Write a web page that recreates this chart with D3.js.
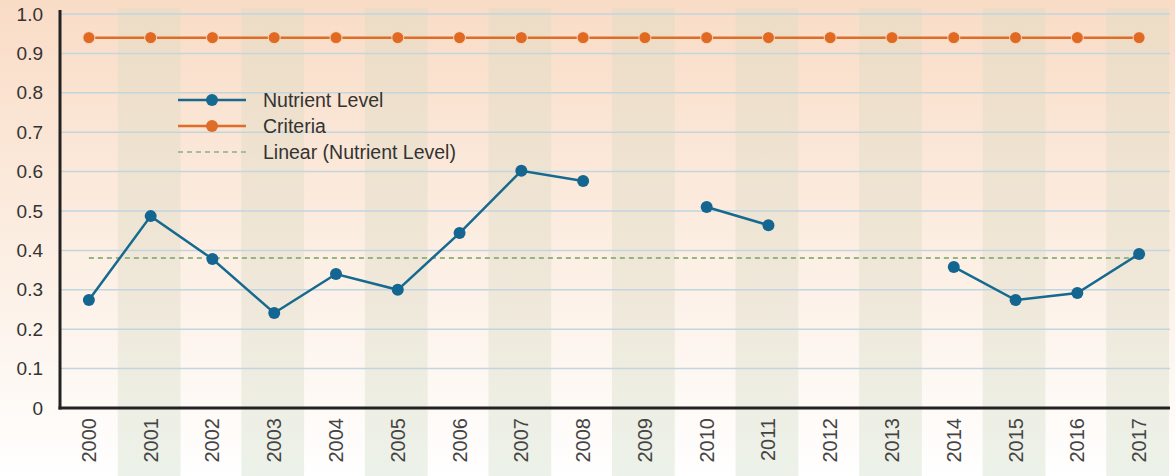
<!DOCTYPE html>
<html>
<head>
<meta charset="utf-8">
<script src="https://cdn.jsdelivr.net/npm/d3@7"></script>
<style>
  body { margin: 0; background: #fff; }
  svg { display: block; font-family: "Liberation Sans", Arial, sans-serif; }
</style>
</head>
<body>
<div id="holder"></div>
<script>
// chart data
var years = ['2000','2001','2002','2003','2004','2005','2006','2007','2008','2009','2010','2011','2012','2013','2014','2015','2016','2017'];
var nutrient = [0.274, 0.487, 0.378, 0.241, 0.340, 0.300, 0.444, 0.602, 0.576, null, 0.510, 0.464, null, null, 0.358, 0.274, 0.292, 0.391];
var criteria = [0.94, 0.94, 0.94, 0.94, 0.94, 0.94, 0.94, 0.94, 0.94, 0.94, 0.94, 0.94, 0.94, 0.94, 0.94, 0.94, 0.94, 0.94];
var trendEnds = [0.381, 0.381];
var yTicks = [0, 0.1, 0.2, 0.3, 0.4, 0.5, 0.6, 0.7, 0.8, 0.9, 1.0];
var legendItems = ['Nutrient Level', 'Criteria', 'Linear (Nutrient Level)'];

var W = 1175, H = 476;
var font = '"Liberation Sans", Arial, sans-serif';

var svg = d3.select('#holder').append('svg').attr('width', W).attr('height', H);
var defs = svg.append('defs');

var bg = defs.append('linearGradient').attr('id', 'bg').attr('x1', 0).attr('y1', 0).attr('x2', 0).attr('y2', 1);
bg.append('stop').attr('offset', '0%').attr('stop-color', '#f9dcc6');
bg.append('stop').attr('offset', '55%').attr('stop-color', '#fcefe4');
bg.append('stop').attr('offset', '100%').attr('stop-color', '#ffffff');

var stripe = defs.append('linearGradient').attr('id', 'stripe').attr('x1', 0).attr('y1', 0).attr('x2', 0).attr('y2', 1);
stripe.append('stop').attr('offset', '0%').attr('stop-color', '#ebdcc5');
stripe.append('stop').attr('offset', '60%').attr('stop-color', '#ede6d7');
stripe.append('stop').attr('offset', '100%').attr('stop-color', '#e9f0e6');

svg.append('rect').attr('width', W).attr('height', H).attr('fill', 'url(#bg)');

var x = d3.scaleBand().domain(years).range([58, 1170]);
var y = d3.scaleLinear().domain([0, 1]).range([408, 14]);

// alternating column stripes
svg.append('g').selectAll('rect')
  .data(years.filter(function(d, i) { return i % 2 === 1; }))
  .enter().append('rect')
  .attr('x', function(d) { return x(d) - 2; })
  .attr('y', 8)
  .attr('width', x.bandwidth() + 1)
  .attr('height', H - 8)
  .attr('fill', 'url(#stripe)')
  .attr('opacity', 0.85);

// gridlines
svg.append('g').selectAll('line')
  .data(yTicks.filter(function(d) { return d > 0; }))
  .enter().append('line')
  .attr('x1', 60).attr('x2', 1170)
  .attr('y1', function(d) { return y(d); })
  .attr('y2', function(d) { return y(d); })
  .attr('stroke', '#c3d5df').attr('stroke-width', 1.5);

// y axis
var yAxis = svg.append('g').attr('transform', 'translate(60,0)')
  .call(d3.axisLeft(y).tickValues(yTicks).tickSize(0).tickPadding(17)
    .tickFormat(function(d) { return d === 0 ? '0' : d3.format('.1f')(d); }));
yAxis.select('.domain').attr('stroke', '#222').attr('stroke-width', 3).attr('d', 'M0,10V409.5');
yAxis.selectAll('text').attr('font-size', 19).attr('fill', '#333').attr('font-family', font);

// x axis
var xAxis = svg.append('g').attr('transform', 'translate(0,408)')
  .call(d3.axisBottom(x).tickSize(0));
xAxis.select('.domain').attr('stroke', '#222').attr('stroke-width', 3).attr('d', 'M58.5,0H1170');
xAxis.selectAll('text')
  .attr('font-size', 20).attr('fill', '#444')
  .attr('font-family', font)
  .attr('transform', 'rotate(-90)')
  .attr('text-anchor', 'end')
  .attr('dy', '0.35em')
  .attr('x', -10)
  .attr('y', 0);

var cx = function(i) { return x(years[i]) + x.bandwidth() / 2; };

// trend line
svg.append('line')
  .attr('x1', cx(0))
  .attr('x2', cx(years.length - 1))
  .attr('y1', y(trendEnds[0])).attr('y2', y(trendEnds[1]))
  .attr('stroke', '#97b484').attr('stroke-width', 2).attr('stroke-dasharray', '5,4');

// criteria
var critLine = d3.line().x(function(d, i) { return cx(i); }).y(function(d) { return y(d); });
svg.append('path').attr('d', critLine(criteria)).attr('fill', 'none').attr('stroke', '#df6c27').attr('stroke-width', 2.5);
svg.append('g').selectAll('circle').data(criteria).enter().append('circle')
  .attr('cx', function(d, i) { return cx(i); }).attr('cy', function(d) { return y(d); }).attr('r', 6)
  .attr('fill', '#e06a22').attr('stroke', '#f7d9c4').attr('stroke-width', 1);

// nutrient level
var nutLine = d3.line().defined(function(d) { return d !== null; })
  .x(function(d, i) { return cx(i); }).y(function(d) { return y(d); });
svg.append('path').attr('d', nutLine(nutrient)).attr('fill', 'none').attr('stroke', '#16698f').attr('stroke-width', 2.5);
var nutPts = nutrient.map(function(v, i) { return {i: i, v: v}; }).filter(function(p) { return p.v !== null; });
svg.append('g').selectAll('circle').data(nutPts).enter().append('circle')
  .attr('cx', function(p) { return cx(p.i); }).attr('cy', function(p) { return y(p.v); }).attr('r', 6)
  .attr('fill', '#146590');

// legend
var leg = svg.append('g').attr('transform', 'translate(178,100)');
legendItems.forEach(function(name, i) {
  var g = leg.append('g').attr('transform', 'translate(0,' + (i * 26) + ')');
  if (i < 2) {
    var col = i === 0 ? '#16698f' : '#df6c27';
    g.append('line').attr('x1', 0).attr('x2', 68).attr('stroke', col).attr('stroke-width', 2.5);
    g.append('circle').attr('cx', 34).attr('r', 6).attr('fill', col);
  } else {
    g.append('line').attr('x1', 0).attr('x2', 68).attr('stroke', '#a6bd97').attr('stroke-width', 2).attr('stroke-dasharray', '5,4');
  }
  g.append('text').attr('x', 85).attr('dy', '0.35em').attr('font-size', 19.5).attr('fill', '#333').text(name);
});
</script>
</body>
</html>
